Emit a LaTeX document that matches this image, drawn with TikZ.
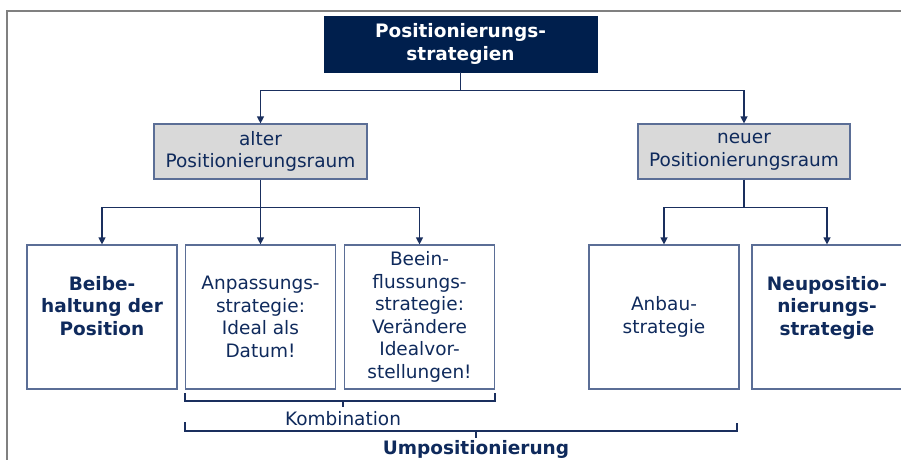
\documentclass[tikz,border=0pt]{standalone}
\usepackage{fontspec}
\setmainfont{DejaVu Sans}
\usepackage{tikz}
\usetikzlibrary{arrows.meta}
\definecolor{navy}{HTML}{001F4D}
\definecolor{inktext}{HTML}{0F2A5C}
\definecolor{linkblue}{HTML}{1A2F5E}
\definecolor{boxline}{HTML}{5B6E96}
\definecolor{spacegray}{HTML}{D9D9D9}
\definecolor{framegray}{HTML}{808080}

\begin{document}
\begin{tikzpicture}[x=1pt, y=-1pt, >={Triangle[width=7pt,length=7pt]},
    every node/.style={font=\fontsize{18.5}{22.5}\selectfont, text=inktext, align=center, inner sep=0pt},
    headbox/.style={fill=navy, draw=navy, text=white, font=\bfseries\fontsize{18.5}{22.5}\selectfont,
      minimum width=273pt, minimum height=56pt},
    spacebox/.style={fill=spacegray, draw=boxline, line width=1.2pt, minimum height=55pt},
    stratbox/.style={draw=boxline, line width=1.2pt, minimum width=150pt, minimum height=144pt},
    boldtext/.style={font=\bfseries\fontsize{18.5}{22.5}\selectfont},
    link/.style={draw=linkblue, line width=1.2pt}]
        \useasboundingbox (0,0) rectangle (901,459);
        \draw[framegray, line width=2pt] (7,11) rectangle (920,480);
        \node[headbox] (pos) at (460.5,44) {Positionierungs-\\strategien};
        \node[spacebox, minimum width=213pt] (alt) at (260.5,151.5) {alter\\Positionierungsraum};
        \node[spacebox, minimum width=212pt] (neu) at (744,151.5) {neuer\\Positionierungsraum};
        \node[stratbox, boldtext] (bei) at (102,317) {Beibe-\\haltung der\\Position\\~};
        \node[stratbox] (anp) at (260.5,317) {Anpassungs-\\strategie:\\Ideal als\\Datum!};
        \node[stratbox] (bee) at (419.5,317) {Beein-\\flussungs-\\strategie:\\Verändere\\Idealvor-\\stellungen!};
        \node[stratbox] (anb) at (664,317) {Anbau-\\strategie};
        \node[stratbox, boldtext] (npo) at (827,317) {Neupositio-\\nierungs-\\strategie\\~};
        \coordinate (j1) at ([yshift=-18pt]pos.south);
        \coordinate (j2) at ([yshift=-28pt]alt.south);
        \coordinate (j3) at ([yshift=-28pt]neu.south);
        \draw[link] (pos.south) -- (j1);
        \draw[link, ->] (j1) -| (alt);
        \draw[link, ->] (j1) -| (neu);
        \draw[link] (alt.south) -- (j2);
        \draw[link, ->] (j2) -| (bei);
        \draw[link, ->] (j2) -| (anp);
        \draw[link, ->] (j2) -| (bee);
        \draw[link] (neu.south) -- (j3);
        \draw[link, ->] (j3) -| (anb);
        \draw[link, ->] (j3) -| (npo);
        % Klammern unten
        \draw[link] (185,393) |- (495,401) -- (495,393);
        \draw[link] (343,401) -- (343,407);
        \node[anchor=base] (komb) at (343,425) {Kombination};
        \draw[link] (185,422) |- (737,431) -- (737,423);
        \draw[link] (476,431) -- (476,438);
        \node[anchor=base, boldtext] (umpos) at (476,454) {Umpositionierung};
      \end{tikzpicture}
\end{document}
